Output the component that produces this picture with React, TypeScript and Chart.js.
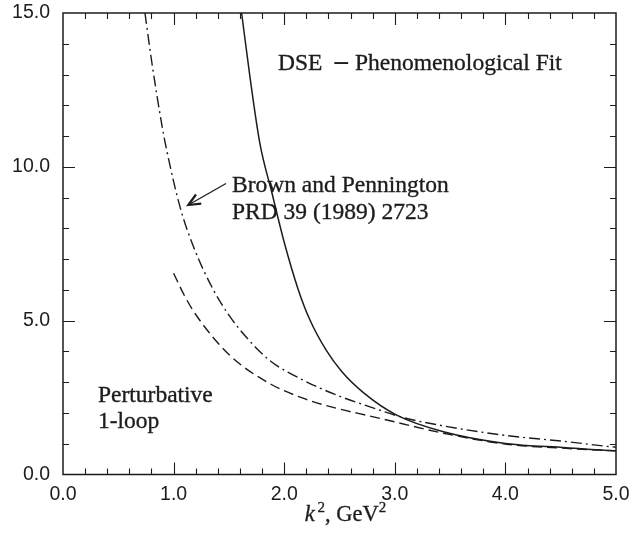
import { useEffect, useRef } from "react";
import { Chart, registerables } from "chart.js";

Chart.register(...registerables);

// ---- Data ----
const dseX = [1.615, 1.69, 1.78, 1.89, 2.0, 2.128, 2.233, 2.378, 2.52, 2.73, 3.017, 3.44, 4.0, 4.55, 4.92, 5.0];
const dseY = [15.0, 12.93, 10.76, 9.14, 7.55, 6.0, 5.02, 4.05, 3.35, 2.62, 1.93, 1.39, 1.01, 0.87, 0.78, 0.77];

const bpX = [0.741, 0.805, 0.892, 0.937, 1.058, 1.18, 1.36, 1.5, 1.66, 1.872, 2.17, 2.475, 2.776, 3.077, 3.44, 4.0, 4.55, 4.96, 5.0];
const bpY = [15.0, 13.35, 11.4, 10.55, 8.7, 7.4, 6.0, 5.18, 4.45, 3.7, 3.07, 2.58, 2.2, 1.85, 1.58, 1.27, 1.07, 0.9, 0.89];

const pertX = [1.0, 1.1, 1.2, 1.5, 1.872, 2.17, 2.475, 2.776, 3.0, 3.44, 4.0, 4.55, 5.0];
const pertY = [6.54, 5.8, 5.2, 3.9, 2.95, 2.48, 2.15, 1.9, 1.71, 1.34, 0.99, 0.85, 0.77];

const xTickValues = [0, 1, 2, 3, 4, 5];
const yTickValues = [0, 5, 10, 15];

const annotationTexts = ["Brown and Pennington", "PRD 39 (1989) 2723", "Perturbative", "1-loop"];
const annotationX = [1.528, 1.528, 0.316, 0.316];
const annotationY = [9.19, 8.31, 2.37, 1.5];

const titleLeft = "DSE";
const titleDash = "\u2013";
const titleRight = "Phenomenological Fit";
const titleX = 1.944;
const titleY = 13.15;

const arrowFromX = 1.474;
const arrowFromY = 9.46;
const arrowToX = 1.133;
const arrowToY = 8.76;

const INK = "#1f1b1c";
const SERIF = '"Liberation Serif", "Times New Roman", serif';
const SANS = '"Liberation Sans", Arial, sans-serif';

const toPoints = (xs: number[], ys: number[]) => xs.map((x, i) => ({ x, y: ys[i] }));

const inkText = (ctx: any, t: string, x: number, y: number) => {
  ctx.fillText(t, x, y);
  ctx.strokeText(t, x, y);
};

const decorPlugin = {
  id: "decor",
  afterDraw(chart: any) {
    const { ctx, chartArea: a, scales } = chart;
    const xs = scales.x;
    const ys = scales.y;
    ctx.save();
    ctx.strokeStyle = INK;
    ctx.fillStyle = INK;

    // frame
    ctx.lineWidth = 1.5;
    ctx.strokeRect(a.left, a.top, a.right - a.left, a.bottom - a.top);

    // inward ticks
    ctx.lineWidth = 1.1;
    ctx.beginPath();
    for (let i = 1; i < 25; i++) {
      const v = i / 5;
      const len = i % 5 === 0 ? 12 : 6;
      const px = Math.round(xs.getPixelForValue(v)) + 0.5;
      ctx.moveTo(px, a.bottom);
      ctx.lineTo(px, a.bottom - len);
      ctx.moveTo(px, a.top);
      ctx.lineTo(px, a.top + len);
    }
    for (let i = 1; i < 15; i++) {
      const len = i % 5 === 0 ? 12 : 6;
      const py = Math.round(ys.getPixelForValue(i)) + 0.5;
      ctx.moveTo(a.left, py);
      ctx.lineTo(a.left + len, py);
      ctx.moveTo(a.right, py);
      ctx.lineTo(a.right - len, py);
    }
    ctx.stroke();

    // annotation texts
    const fs = 23.5;
    ctx.font = `${fs}px ${SERIF}`;
    ctx.textAlign = "left";
    ctx.textBaseline = "alphabetic";
    ctx.lineWidth = 0.35;
    annotationTexts.forEach((t, i) => {
      inkText(ctx, t, xs.getPixelForValue(annotationX[i]), ys.getPixelForValue(annotationY[i]));
    });

    // "DSE – Phenomenological Fit" with a heavier, wider dash
    {
      let tx = xs.getPixelForValue(titleX);
      const ty = ys.getPixelForValue(titleY);
      ctx.font = `${fs}px ${SERIF}`;
      inkText(ctx, titleLeft, tx, ty);
      tx += ctx.measureText(titleLeft).width + 12;
      ctx.font = `bold ${fs * 1.15}px ${SERIF}`;
      ctx.fillText(titleDash, tx, ty - 1);
      tx += ctx.measureText(titleDash).width + 7;
      ctx.font = `${fs}px ${SERIF}`;
      inkText(ctx, titleRight, tx, ty);
    }

    // arrow
    const x0 = xs.getPixelForValue(arrowFromX);
    const y0 = ys.getPixelForValue(arrowFromY);
    const x1 = xs.getPixelForValue(arrowToX);
    const y1 = ys.getPixelForValue(arrowToY);
    const ang = Math.atan2(y1 - y0, x1 - x0);
    ctx.lineWidth = 1.3;
    ctx.beginPath();
    ctx.moveTo(x0, y0);
    ctx.lineTo(x1, y1);
    ctx.stroke();
    ctx.lineWidth = 2.2;
    ctx.beginPath();
    const hl = 13;
    const ha = 0.42;
    ctx.moveTo(x1 - hl * Math.cos(ang - ha), y1 - hl * Math.sin(ang - ha));
    ctx.lineTo(x1, y1);
    ctx.lineTo(x1 - hl * Math.cos(ang + ha), y1 - hl * Math.sin(ang + ha));
    ctx.stroke();

    // x axis title: k^2, GeV^2
    const big = 22.5;
    const small = 15;
    const parts = [
      { t: "k", font: `italic ${big}px ${SERIF}`, dy: 0 },
      { t: " ", font: `${big * 0.5}px ${SERIF}`, dy: 0 },
      { t: "2", font: `${small}px ${SERIF}`, dy: -9 },
      { t: ", GeV", font: `${big}px ${SERIF}`, dy: 0 },
      { t: "2", font: `${small}px ${SERIF}`, dy: -9 },
    ];
    let total = 0;
    const widths = parts.map((p) => {
      ctx.font = p.font;
      const w = ctx.measureText(p.t).width;
      total += w;
      return w;
    });
    let cx = (a.left + a.right) / 2 + 6 - total / 2;
    const base = a.bottom + 46;
    ctx.lineWidth = 0.3;
    parts.forEach((p, i) => {
      ctx.font = p.font;
      inkText(ctx, p.t, cx, base + p.dy);
      cx += widths[i];
    });

    ctx.restore();
  },
};

export default function App() {
  const ref = useRef<HTMLCanvasElement | null>(null);

  useEffect(() => {
    if (!ref.current) return;
    const zeroPad = (s: any) => {
      s.paddingTop = 0;
      s.paddingBottom = 0;
      s.paddingLeft = 0;
      s.paddingRight = 0;
    };
    const chart = new Chart(ref.current, {
      type: "line",
      data: {
        datasets: [
          {
            label: "DSE - Phenomenological Fit",
            data: toPoints(dseX, dseY),
            borderColor: INK,
            borderWidth: 1.5,
            pointRadius: 0,
            fill: false,
            cubicInterpolationMode: "monotone",
          },
          {
            label: "Brown and Pennington",
            data: toPoints(bpX, bpY),
            borderColor: INK,
            borderWidth: 1.4,
            borderDash: [11, 4, 2, 4],
            pointRadius: 0,
            fill: false,
            cubicInterpolationMode: "monotone",
          },
          {
            label: "Perturbative 1-loop",
            data: toPoints(pertX, pertY),
            borderColor: INK,
            borderWidth: 1.4,
            borderDash: [10, 5],
            pointRadius: 0,
            fill: false,
            cubicInterpolationMode: "monotone",
          },
        ],
      },
      options: {
        animation: false,
        responsive: false,
        maintainAspectRatio: false,
        layout: { padding: { top: 13, right: 19, left: 0, bottom: 0 } },
        plugins: { legend: { display: false }, tooltip: { enabled: false } },
        scales: {
          x: {
            type: "linear",
            min: 0,
            max: 5,
            afterFit: (s: any) => {
              s.height = 61.5;
              zeroPad(s);
            },
            afterBuildTicks: (s: any) => {
              s.ticks = xTickValues.map((v) => ({ value: v }));
            },
            grid: { display: false, drawTicks: false },
            border: { display: false },
            ticks: {
              padding: 8,
              color: INK,
              font: { family: SANS, size: 19.5 },
              callback: (v: any) => Number(v).toFixed(1),
              maxRotation: 0,
            },
          },
          y: {
            type: "linear",
            min: 0,
            max: 15,
            afterFit: (s: any) => {
              s.width = 63;
              zeroPad(s);
            },
            afterBuildTicks: (s: any) => {
              s.ticks = yTickValues.map((v) => ({ value: v }));
            },
            grid: { display: false, drawTicks: false },
            border: { display: false },
            ticks: {
              padding: 13,
              color: INK,
              font: { family: SANS, size: 19.5 },
              callback: (v: any) => Number(v).toFixed(1),
            },
          },
        },
      },
      plugins: [decorPlugin],
    });
    return () => chart.destroy();
  }, []);

  return (
    <div style={{ position: "fixed", left: 0, top: 0, width: 635, height: 536, background: "#fff" }}>
      <canvas ref={ref} width={635} height={536} style={{ width: 635, height: 536, display: "block" }} />
    </div>
  );
}
